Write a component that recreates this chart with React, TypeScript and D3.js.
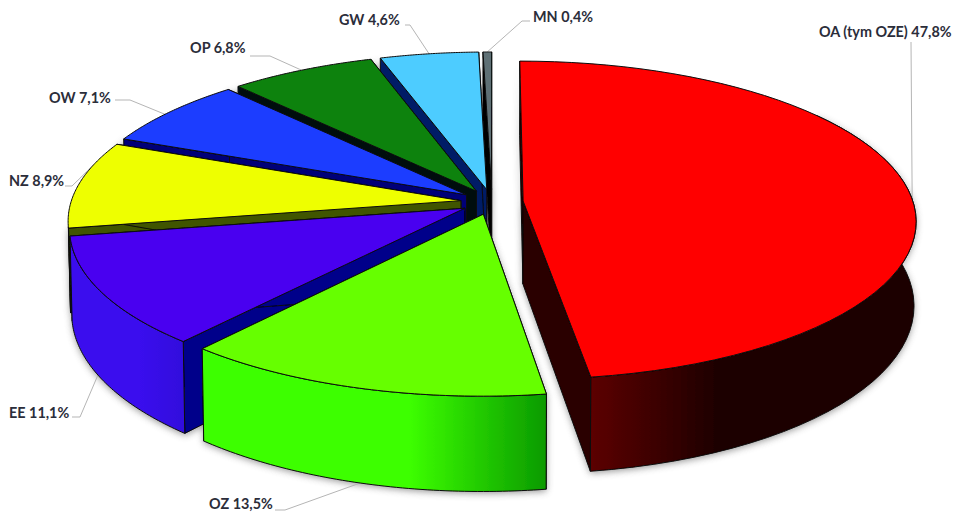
import React from "react";
import * as d3 from "d3";

const categories = ["OA (tym OZE)", "OZ", "EE", "NZ", "OW", "OP", "GW", "MN"];
const shares = [47.8, 13.5, 11.1, 8.9, 7.1, 6.8, 4.6, 0.4];
const shareLabels = ["47,8%", "13,5%", "11,1%", "8,9%", "7,1%", "6,8%", "4,6%", "0,4%"];
const topColors = ["#ff0000", "#66ff00", "#4800f0", "#eeff00", "#1a3cff", "#078207", "#4dccff", "#5f6f75"];
const wallColors = ["#2a0000", "#2a9a00", "#00008a", "#3f5500", "#000078", "#00100a", "#001a66", "#000000"];
const outerFrom = ["#5c0000", "#3dff00", "#3a10ee", "#c0c800", "#1030d0", "#056005", "#30a0d0", "#444444"];
const outerTo = ["#1c0000", "#0a9a00", "#3208dc", "#c0c800", "#1030d0", "#056005", "#30a0d0", "#444444"];

// geometry of the tilted pie
const W = 956, H = 512;
const CX = 492, CY = 202, RX = 390, RY = 157, PERSP = 0.12, DEPTH = 83, EXPLODE = 0.08;
const BOTTOM_SHRINK = 0.995;

// label layout: [text x, text baseline y, elbow x, elbow y, line end x, fraction along arc, on lower edge]
const labelLayout: [number, number, number, number, number, number, number][] = [
  [819, 37, 911, 42, 911, 0.52, 0],
  [209, 509, 285, 510, 275, 0.5, 1],
  [9, 418, 80, 417, 72, 0.55, 1],
  [9, 186, 72, 186, 65, 0.72, 0],
  [49, 103, 130, 100, 115, 0.45, 0],
  [190, 53, 270, 56, 250, 0.5, 0],
  [339, 25, 410, 25, 405, 0.5, 0],
  [533, 22, 522, 21, 530, 0.5, 0],
];

const project = (u: number, v: number, z = 0): [number, number] => {
  const s = 1 / (1 + PERSP * v);
  const k = z ? BOTTOM_SHRINK : 1;
  return [CX + RX * u * s * k, CY - RY * v * s + z * DEPTH * s];
};

const arcs = d3.pie<number>().sort(null)(shares);

const path = d3.line<[number, number]>();

function slicePoints(a: d3.PieArcDatum<number>) {
  const mid = (a.startAngle + a.endAngle) / 2;
  const ou = EXPLODE * Math.sin(mid), ov = EXPLODE * Math.cos(mid);
  const pt = (ang: number, r: number, z = 0) =>
    project(ou + r * Math.sin(ang), ov + r * Math.cos(ang), z);
  const angles = d3.range(0, 61).map((i) => a.startAngle + ((a.endAngle - a.startAngle) * i) / 60);
  return { pt, angles };
}

export default function App() {
  const shapes = arcs.map((a) => {
    const { pt, angles } = slicePoints(a);
    const top = [pt(0, 0), ...angles.map((t) => pt(t, 1))] as [number, number][];
    const wall = (t: number) =>
      [pt(t, 0), pt(t, 1), pt(t, 1, 1), pt(t, 0, 1)] as [number, number][];
    const lo = Math.PI * 0.3, hi = Math.PI * 1.45;
    const front = angles.filter((t) => t >= lo && t <= hi);
    const outer = front.length
      ? ([...front.map((t) => pt(t, 1)), ...[...front].reverse().map((t) => pt(t, 1, 1))] as [number, number][])
      : null;
    return {
      top: path(top) + "Z",
      wallA: path(wall(a.startAngle)) + "Z",
      wallB: path(wall(a.endAngle)) + "Z",
      outer: outer ? path(outer) + "Z" : null,
    };
  });

  const order = [7, 6, 5, 4, 3, 2, 1, 0];

  return (
    <svg width={W} height={H} style={{ position: "absolute", left: 0, top: 0, background: "#fff" }}>
      <defs>
        <filter id="soft" x="-10%" y="-10%" width="120%" height="120%">
          <feGaussianBlur stdDeviation="3.5" />
        </filter>
        <filter id="jpeg" x="-2%" y="-2%" width="104%" height="104%">
          <feGaussianBlur stdDeviation="0.4" />
        </filter>
        {categories.map((_, i) => (
          <linearGradient key={i} id={`outer${i}`} x1="0" x2="1" y1="0" y2="0">
            {i === 0 ? (
              <>
                <stop offset="0" stopColor={outerFrom[i]} />
                <stop offset="0.4" stopColor={outerTo[i]} />
                <stop offset="1" stopColor={outerTo[i]} />
              </>
            ) : (
              <>
                <stop offset="0" stopColor={outerFrom[i]} />
                <stop offset="0.6" stopColor={outerFrom[i]} />
                <stop offset="1" stopColor={outerTo[i]} />
              </>
            )}
          </linearGradient>
        ))}
      </defs>

      <g filter="url(#soft)" fill="#555" opacity={0.6} transform="translate(0,2)">
        {shapes.map((s, i) => (
          <g key={i}>
            <path d={s.wallA} />
            <path d={s.wallB} />
            {s.outer && <path d={s.outer} />}
          </g>
        ))}
      </g>

      <g fill="none" stroke="#b5b5b5" strokeWidth={1}>
        {arcs.map((a, i) => {
          const [, , ex, ey, lx, frac, low] = labelLayout[i];
          const { pt } = slicePoints(a);
          const s = pt(a.startAngle + (a.endAngle - a.startAngle) * frac, 1, low);
          return <path key={i} d={path([s, [ex, ey], [lx, ey]]) as string} />;
        })}
      </g>

      <g filter="url(#jpeg)">
        {order.map((i) => {
          const s = shapes[i];
          return (
            <g key={i} stroke="#0a0a0a" strokeWidth={1} strokeLinejoin="round">
              <path d={s.wallA} fill={wallColors[i]} />
              <path d={s.wallB} fill={wallColors[i]} />
              {s.outer && <path d={s.outer} fill={`url(#outer${i})`} />}
              <path d={s.top} fill={topColors[i]} />
            </g>
          );
        })}
      </g>

      <g fontFamily="Lato, 'Open Sans', sans-serif" fontSize={14.4} fontWeight={700} fill="#2b2d3a">
        {categories.map((c, i) => (
          <text key={c} x={labelLayout[i][0]} y={labelLayout[i][1]}>
            {c} {shareLabels[i]}
          </text>
        ))}
      </g>
    </svg>
  );
}
